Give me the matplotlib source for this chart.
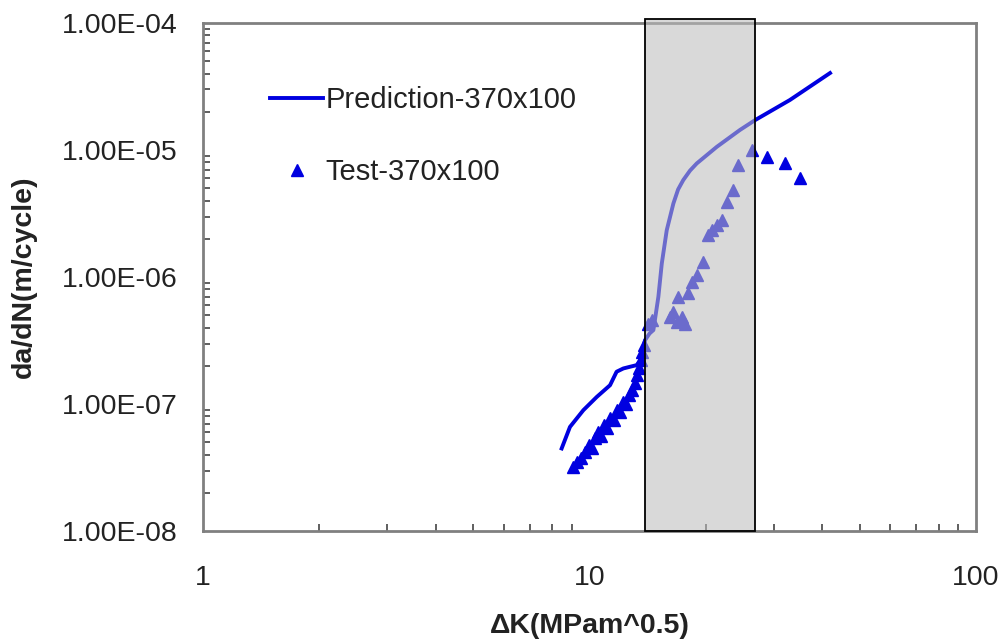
import matplotlib
matplotlib.use('Agg')
import matplotlib.pyplot as plt
from matplotlib.ticker import FuncFormatter, LogLocator, NullFormatter

plt.rcParams['font.family'] = ['Liberation Sans', 'DejaVu Sans']

# prediction curve
pred_dk = [8.47, 8.90, 9.64, 10.44, 11.30, 11.75, 12.23, 12.73, 13.25, 13.51, 13.78,
           13.92, 14.30, 14.63, 15.07, 15.38, 15.84, 16.48, 16.95, 17.48, 18.2, 18.94,
           21.34, 24.5, 26.8, 33.0, 41.9]
pred_rate = [4.48e-8, 6.62e-8, 8.97e-8, 1.14e-7, 1.41e-7, 1.80e-7, 1.91e-7, 1.97e-7,
             2.03e-7, 2.22e-7, 2.82e-7, 3.19e-7, 3.60e-7, 3.83e-7, 7.0e-7, 1.28e-6,
             2.34e-6, 3.80e-6, 4.9e-6, 5.81e-6, 6.9e-6, 7.85e-6, 1.06e-5, 1.44e-5,
             1.72e-5, 2.48e-5, 4.04e-5]

# test points
test_dk = [9.06, 9.28, 9.51, 9.74, 9.97, 10.15, 10.33, 10.52, 10.71, 10.90, 11.10,
           11.30, 11.57, 11.78, 12.0, 12.21, 12.43, 12.66, 12.88, 13.12, 13.27,
           13.43, 13.59, 13.67,
           13.8, 14.2, 14.51, 16.16, 16.48, 16.81, 17.32, 17.66, 16.98, 18.02,
           18.39, 18.94, 19.70, 20.3, 20.7, 21.34, 21.98, 22.64, 23.55, 24.27,
           26.29, 28.74, 32.05, 35.05]
test_rate = [3.19e-8, 3.49e-8, 3.76e-8, 4.19e-8, 4.75e-8, 4.51e-8, 5.40e-8, 6.02e-8,
             5.60e-8, 6.84e-8, 6.48e-8, 7.76e-8, 7.48e-8, 8.97e-8, 8.65e-8, 1.04e-7,
             1.0e-7, 1.18e-7, 1.29e-7, 1.46e-7, 1.69e-7, 1.92e-7, 2.22e-7, 2.56e-7,
             2.92e-7, 4.31e-7, 4.58e-7, 4.87e-7, 5.33e-7, 4.44e-7, 4.87e-7, 4.31e-7,
             7.0e-7, 7.44e-7, 9.19e-7, 1.04e-6, 1.32e-6, 2.14e-6, 2.34e-6, 2.57e-6,
             2.81e-6, 3.92e-6, 4.84e-6, 7.62e-6, 1.0e-5, 8.86e-6, 7.85e-6, 5.98e-6]

# shaded region
band_lo, band_hi = 13.9, 26.8

blue = '#0000e0'

fig = plt.figure(figsize=(10.08, 6.4), dpi=100)
ax = fig.add_axes([0.2014, 0.170, 0.7669, 0.794])

ax.plot(pred_dk, pred_rate, color=blue, lw=2.8, label='Prediction-370x100', zorder=2)
ax.plot(test_dk, test_rate, ls='none', marker='^', ms=9, color=blue, mec=blue,
        label='Test-370x100', zorder=2)

# grey band drawn over the data, edge drawn separately so it stays black
ax.axvspan(band_lo, band_hi, ymin=0, ymax=1.008, facecolor=(0.74, 0.74, 0.74),
           alpha=0.57, edgecolor='none', zorder=3, clip_on=False)
ax.axvspan(band_lo, band_hi, ymin=0, ymax=1.008, fill=False, edgecolor='black',
           lw=1.3, zorder=4, clip_on=False)

ax.set_xscale('log')
ax.set_yscale('log')
ax.set_xlim(1, 100)
ax.set_ylim(1e-8, 1e-4)

ax.yaxis.set_major_formatter(FuncFormatter(lambda v, p: '%.2E' % v))
ax.xaxis.set_major_formatter(FuncFormatter(lambda v, p: '%g' % v))
ax.xaxis.set_minor_locator(LogLocator(base=10, subs=range(2, 10)))
ax.yaxis.set_minor_locator(LogLocator(base=10, subs=range(2, 10)))
ax.xaxis.set_minor_formatter(NullFormatter())
ax.yaxis.set_minor_formatter(NullFormatter())

ax.tick_params(which='major', length=0, labelsize=20.5, colors='#222222')
ax.tick_params(axis='y', which='major', pad=18)
ax.tick_params(axis='x', which='major', pad=24)
ax.tick_params(which='minor', direction='in', length=5, width=1.2, color='#444444')

for s in ax.spines.values():
    s.set_color('#808080')
    s.set_linewidth(2)

ax.set_ylabel('da/dN(m/cycle)', fontsize=20.5, fontweight='bold', color='#222222')
ax.set_xlabel('ΔK(MPam^0.5)', fontsize=20.5, fontweight='bold', color='#222222')
ax.yaxis.set_label_coords(-0.215, 0.5)
ax.xaxis.set_label_coords(0.5, -0.161)

ax.legend(loc='upper left', bbox_to_anchor=(0.087, 0.876), frameon=False,
          fontsize=21, borderpad=0, borderaxespad=0, handlelength=1.8,
          handletextpad=0.1, labelspacing=1.5, labelcolor='#222222')

fig.savefig('out.png', dpi=100)
